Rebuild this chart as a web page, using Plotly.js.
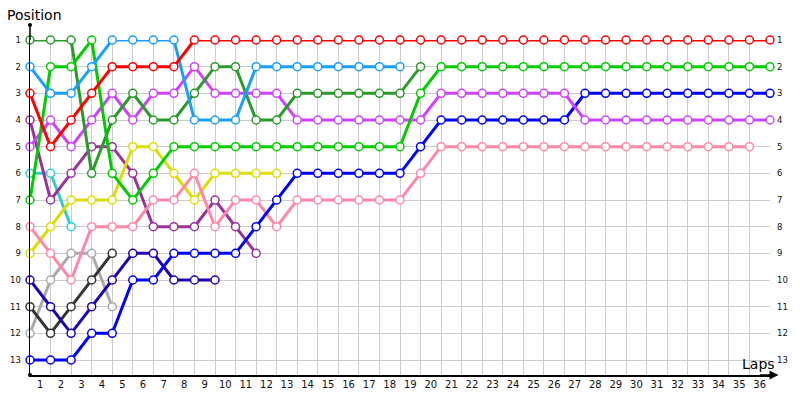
<!DOCTYPE html>
<html>
<head>
<meta charset="utf-8">
<script src="https://cdn.plot.ly/plotly-3.0.1.min.js"></script>
<style>html,body{margin:0;padding:0;background:#fff;}#chart{width:800px;height:400px;}</style>
</head>
<body>
<div id="chart"></div>
<script>
// Lap 0 = grid position, then positions after each lap
const lapLabels = Array.from({length: 36}, (_, i) => String(i + 1));
const positionLabels = ['1','2','3','4','5','6','7','8','9','10','11','12','13'];

const redPos       = [3,5,4,3,2,2,2,2,1,1,1,1,1,1,1,1,1,1,1,1,1,1,1,1,1,1,1,1,1,1,1,1,1,1,1,1,1];
const darkGreenPos = [1,1,1,6,4,3,4,4,3,2,2,4,4,3,3,3,3,3,3,2];
const greenPos     = [7,2,2,1,6,7,6,5,5,5,5,5,5,5,5,5,5,5,5,3,2,2,2,2,2,2,2,2,2,2,2,2,2,2,2,2,2];
const lightBluePos = [2,3,3,2,1,1,1,1,4,4,4,2,2,2,2,2,2,2,2];
const violetPos    = [5,4,5,4,3,4,3,3,2,3,3,3,3,4,4,4,4,4,4,4,3,3,3,3,3,3,3,4,4,4,4,4,4,4,4,4,4];
const purplePos    = [4,7,6,5,5,6,8,8,8,7,8,9];
const cyanPos      = [6,6,8];
const yellowPos    = [9,8,7,7,7,5,5,6,7,6,6,6,6];
const pinkPos      = [8,9,10,8,8,8,7,7,6,8,7,7,8,7,7,7,7,7,7,6,5,5,5,5,5,5,5,5,5,5,5,5,5,5,5,5];
const bluePos      = [13,13,13,12,12,10,10,9,9,9,9,8,7,6,6,6,6,6,6,5,4,4,4,4,4,4,4,3,3,3,3,3,3,3,3,3,3];
const navyPos      = [10,11,12,11,10,9,9,10,10,10];
const blackPos     = [11,12,11,10,9];
const grayPos      = [12,10,9,9,11];

const series = [
  {name: 'Gray',       pos: grayPos,      color: '#aaaaaa'},
  {name: 'Black',      pos: blackPos,     color: '#333333'},
  {name: 'Navy',       pos: navyPos,      color: '#2200b0'},
  {name: 'Cyan',       pos: cyanPos,      color: '#33cccc'},
  {name: 'Purple',     pos: purplePos,    color: '#993399'},
  {name: 'Yellow',     pos: yellowPos,    color: '#dddd00'},
  {name: 'Pink',       pos: pinkPos,      color: '#ff88aa'},
  {name: 'Blue',       pos: bluePos,      color: '#0000ff'},
  {name: 'Violet',     pos: violetPos,    color: '#cc44ff'},
  {name: 'Dark green', pos: darkGreenPos, color: '#2a9a2a'},
  {name: 'Green',      pos: greenPos,     color: '#00cc00'},
  {name: 'Light blue', pos: lightBluePos, color: '#1a9fff'},
  {name: 'Red',        pos: redPos,       color: '#ff0000'}
];

const traces = series.map(s => ({
  type: 'scatter',
  mode: 'lines+markers',
  name: s.name,
  x: s.pos.map((_, i) => i),
  y: s.pos,
  cliponaxis: false,
  line: {color: s.color, width: 3},
  marker: {symbol: 'circle', size: 8, color: '#ffffff', line: {color: s.color, width: 1.5}},
  hoverinfo: 'x+y+name'
}));

// invisible traces to carry secondary axes
traces.push({type: 'scatter', x: [0], y: [1], xaxis: 'x2', yaxis: 'y', mode: 'markers', marker: {opacity: 0}, showlegend: false, hoverinfo: 'skip'});
traces.push({type: 'scatter', x: [0], y: [1], xaxis: 'x', yaxis: 'y2', mode: 'markers', marker: {opacity: 0}, showlegend: false, hoverinfo: 'skip'});

const lapGrid = Array.from({length: 37}, (_, i) => i);
const lapLabelVals = lapLabels.map((_, i) => i + 0.5);
const posVals = positionLabels.map(Number);
const tickFont = {family: 'DejaVu Sans, Verdana, sans-serif', size: 10, color: '#111'};
const yTickFont = {family: 'DejaVu Sans, Verdana, sans-serif', size: 8.5, color: '#111'};

const layout = {
  width: 800, height: 400,
  margin: {l: 30, r: 30, t: 40, b: 25, pad: 0},
  paper_bgcolor: '#ffffff', plot_bgcolor: '#ffffff',
  showlegend: false,
  xaxis: {
    range: [0, 36], tickvals: lapGrid, showticklabels: false, ticks: '',
    showgrid: true, gridcolor: '#cccccc', gridwidth: 1, zeroline: false,
    showline: true, linecolor: '#000', linewidth: 1.5, fixedrange: true
  },
  xaxis2: {
    overlaying: 'x', side: 'bottom', anchor: 'y', range: [0, 36],
    tickvals: lapLabelVals, ticktext: lapLabels, ticks: '', showgrid: false,
    zeroline: false, showline: false, tickfont: tickFont, ticklabelstandoff: 2
  },
  yaxis: {
    range: [13.5625, 1], tickvals: posVals, ticktext: positionLabels, ticks: '',
    showgrid: true, gridcolor: '#cccccc', gridwidth: 1, zeroline: false,
    showline: true, linecolor: '#000', linewidth: 1.5, tickfont: yTickFont,
    ticklabelstandoff: 6
  },
  yaxis2: {
    overlaying: 'y', side: 'right', anchor: 'x', range: [13.5625, 1],
    tickvals: posVals, ticktext: positionLabels, ticks: '', showgrid: false,
    zeroline: false, showline: false, tickfont: yTickFont, ticklabelstandoff: 6
  },
  shapes: [
    {type: 'line', xref: 'paper', yref: 'paper', x0: 0, x1: 0, y0: 1, y1: 1.0448, line: {color: '#000', width: 1.5}},
    {type: 'circle', xref: 'paper', yref: 'paper', xsizemode: 'pixel', ysizemode: 'pixel', xanchor: 0, yanchor: 1.0448,
     x0: -2, x1: 2, y0: -2, y1: 2, fillcolor: '#000', line: {width: 0}},
    {type: 'circle', xref: 'paper', yref: 'paper', xsizemode: 'pixel', ysizemode: 'pixel', xanchor: 0, yanchor: 0,
     x0: -2, x1: 2, y0: -2, y1: 2, fillcolor: '#000', line: {width: 0}}
  ],
  annotations: [
    {xref: 'paper', yref: 'paper', x: 1.0115, y: 0, ax: -20, ay: 0, axref: 'pixel', ayref: 'pixel',
     showarrow: true, arrowhead: 2, arrowsize: 1.2, arrowwidth: 1.5, arrowcolor: '#000', text: ''},
    {xref: 'paper', yref: 'paper', x: 0.9845, y: 0.033, xanchor: 'center', yanchor: 'middle',
     text: 'Laps', showarrow: false, font: {family: 'DejaVu Sans, Verdana, sans-serif', size: 14, color: '#000'}},
    {xref: 'paper', yref: 'paper', x: -0.0338, y: 1.075, xanchor: 'left', yanchor: 'middle',
     text: 'Position', showarrow: false, font: {family: 'DejaVu Sans, Verdana, sans-serif', size: 14, color: '#000'}}
  ]
};

Plotly.newPlot('chart', traces, layout, {displayModeBar: false, staticPlot: true});
</script>
</body>
</html>
